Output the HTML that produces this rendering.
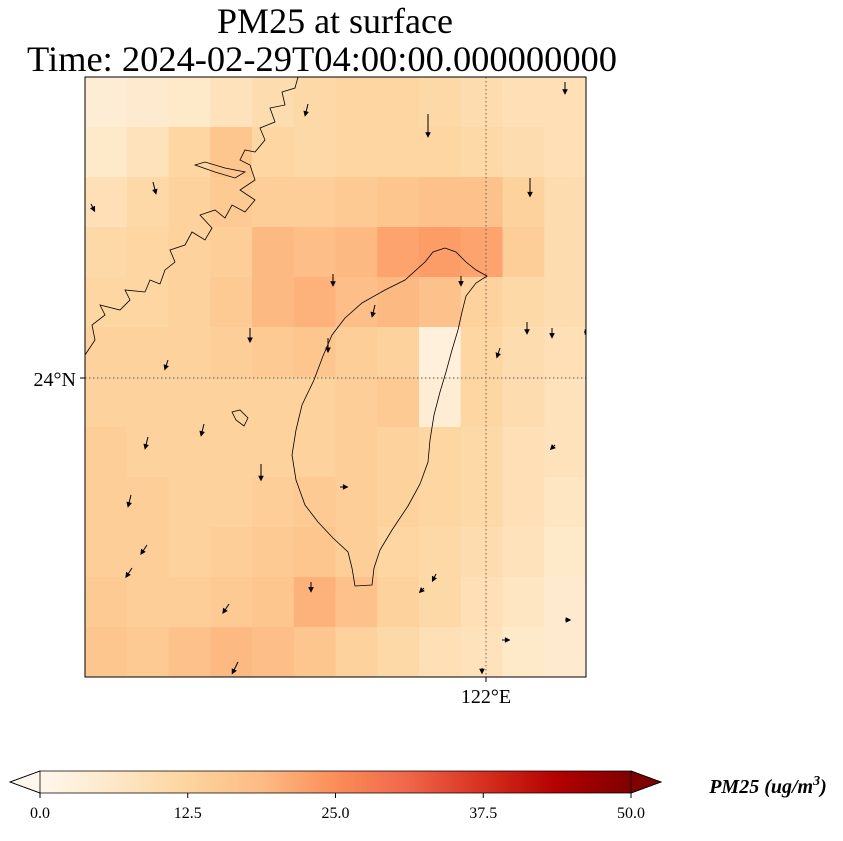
<!DOCTYPE html>
<html><head><meta charset="utf-8"><style>
body{margin:0;background:#fff;width:843px;height:836px;overflow:hidden;font-family:"Liberation Serif",serif}
</style></head><body>
<svg id="s" width="843" height="836" xmlns="http://www.w3.org/2000/svg">
<defs>
<linearGradient id="cbg" x1="0" x2="1" y1="0" y2="0">
<stop offset="0" stop-color="#fff7ec"/><stop offset="0.125" stop-color="#fee8c8"/><stop offset="0.25" stop-color="#fdd49e"/><stop offset="0.375" stop-color="#fdbb84"/><stop offset="0.5" stop-color="#fc8d59"/><stop offset="0.625" stop-color="#ef6548"/><stop offset="0.75" stop-color="#d7301f"/><stop offset="0.875" stop-color="#b30000"/><stop offset="1" stop-color="#7f0000"/>
</linearGradient>
<clipPath id="mc"><rect x="85" y="77" width="501" height="600"/></clipPath>
</defs>
<text x="335" y="33" text-anchor="middle" font-size="36">PM25 at surface</text>
<text x="322" y="71" text-anchor="middle" font-size="36" textLength="590" lengthAdjust="spacingAndGlyphs">Time: 2024-02-29T04:00:00.000000000</text>
<g id="field" clip-path="url(#mc)"></g>
<g id="coast" clip-path="url(#mc)" fill="none" stroke="#000" stroke-width="0.8">
<path d="M425,262 L433,252 L445,248 L456,252 L466,262 L476,270 L487,276 L476,283 L466,296 L462,312 L458,330 L452,350 L446,372 L440,392 L434,415 L430,440 L428,462 L420,484 L408,506 L392,530 L380,550 L374,568 L372,585 L355,586 L352,568 L348,552 L333,538 L318,522 L305,505 L296,480 L292,455 L296,430 L302,405 L314,380 L323,356 L332,335 L345,318 L362,303 L385,290 L405,280 Z"/>
<path d="M85,355 L95,340 L92,325 L105,315 L100,305 L120,310 L130,300 L125,290 L145,292 L150,280 L160,284 L165,270 L175,262 L170,250 L185,245 L192,232 L205,240 L212,228 L200,215 L215,210 L225,218 L232,205 L245,212 L255,200 L240,190 L255,180 L250,165 L240,160 L245,150 L255,152 L265,140 L260,128 L275,122 L270,108 L285,105 L282,92 L295,88 L298,77"/>
<path d="M195,165 L215,172 L235,178 L245,172 L225,168 L205,162 Z"/>
<path d="M232,412 L240,410 L248,418 L244,426 L236,420 Z"/>
</g>
<g id="arrows" clip-path="url(#mc)"></g>
<g stroke="#555" stroke-width="0.9" stroke-dasharray="1.5,2.5">
<line x1="85" y1="378" x2="586" y2="378"/>
<line x1="486" y1="77" x2="486" y2="677"/>
</g>
<rect x="85" y="77" width="501" height="600" fill="none" stroke="#000" stroke-width="1"/>
<line x1="80" y1="378" x2="85" y2="378" stroke="#000"/>
<text x="76" y="386" text-anchor="end" font-size="20">24°N</text>
<line x1="486" y1="677" x2="486" y2="682" stroke="#000"/>
<text x="486" y="703" text-anchor="middle" font-size="20">122°E</text>
<g>
<rect x="40" y="771" width="591" height="22" fill="url(#cbg)"/>
<polygon points="40,771 10,782 40,793" fill="#fff7ec" stroke="#000" stroke-width="0.8"/>
<polygon points="631,771 661,782 631,793" fill="#7f0000" stroke="#000" stroke-width="0.8"/>
<polygon points="10,782 40,771 631,771 661,782 631,793 40,793" fill="none" stroke="#000" stroke-width="0.8"/>
<g id="cbt" font-size="16"></g>
<text x="768" y="793" text-anchor="middle" font-size="20" font-weight="bold" font-style="italic">PM25 (ug/m<tspan dy="-8" font-size="14">3</tspan><tspan dy="8">)</tspan></text>
</g>
</svg>
<script>
const gridValues = [
[4,5,6,8,10,11,12,12,11,10,9,9],
[6,8,12,16,12,11,12,12,12,11,10,9],
[9,11,13,15,14,14,15,16,17,17,13,10],
[11,12,13,14,19,18,19,22,23,22,14,10],
[12,12,13,15,19,20,18,19,17,13,11,10],
[13,13,13,14,15,16,14,13,3,12,10,9],
[13,13,13,13,13,13,14,15,4,12,10,8],
[14,13,13,13,13,13,14,13,12,11,9,8],
[14,14,13,13,14,15,14,13,12,11,9,7],
[14,14,13,14,15,16,14,12,11,10,8,6],
[15,14,14,15,16,20,17,13,11,9,7,5],
[16,15,17,19,18,16,13,11,9,8,6,5]];
const colorbarTicks = [0,12.5,25,37.5,50];
const arrowX = [153,210,308,428,530,565,91,333,250,168,148,204,261,328,375,461,500,527,552,584,131,147,132,229,238,311,340,424,436,502,565,482,555];
const arrowY = [182,92,104,114,178,82,204,274,328,360,437,424,464,338,305,276,348,322,328,332,495,545,568,604,662,582,487,588,574,640,620,668,445];
const arrowU = [1,0,-1,0,0,0,1,0,0,-1,-1,-1,0,0,-1,0,-1,0,0,1,-1,-2,-2,-2,-2,0,2,-1,-1,2,1,0,-1];
const arrowV = [4,0,4,9,7,4,2,4,5,3,4,4,6,5,4,3,3,4,3,0,4,3,3,3,4,3,0,1,2,0,0,1,1];
const X0=85,Y0=77,W=501,H=600;
const cmap=[[0,"#fff7ec"],[6.25,"#fee8c8"],[12.5,"#fdd49e"],[18.75,"#fdbb84"],[25,"#fc8d59"],[31.25,"#ef6548"],[37.5,"#d7301f"],[43.75,"#b30000"],[50,"#7f0000"]];
function hx(c){return [1,3,5].map(i=>parseInt(c.substr(i,2),16));}
function color(v){v=Math.max(0,Math.min(50,v));for(let i=0;i<cmap.length-1;i++){const[a,ca]=cmap[i],[b,cb]=cmap[i+1];if(v<=b){const t=(v-a)/(b-a),A=hx(ca),B=hx(cb);return "rgb("+A.map((x,k)=>Math.round(x+(B[k]-x)*t)).join(",")+")";}}return "#7f0000";}
const NS="http://www.w3.org/2000/svg";
const rows=gridValues.length,cols=gridValues[0].length;
const cw=W/cols,ch=H/rows;
const field=document.getElementById('field');
gridValues.forEach((row,r)=>row.forEach((v,c)=>{
 const el=document.createElementNS(NS,'rect');
 el.setAttribute('x',X0+c*cw);el.setAttribute('y',Y0+r*ch);
 el.setAttribute('width',cw+0.6);el.setAttribute('height',ch+0.6);
 el.setAttribute('fill',color(v));
 
 
 field.appendChild(el);
}));
const ag=document.getElementById('arrows');
arrowX.forEach((x,i)=>{
 const u=arrowU[i],v=arrowV[i],s=2.2;
 const x2=x+u*s,y2=arrowY[i]+v*s;
 const L=Math.hypot(u,v)||1,ux=u/L,uy=v/L;
 const p=document.createElementNS(NS,'path');
 p.setAttribute('d',`M${x},${arrowY[i]} L${x2},${y2} M${x2+uy*2-ux*1},${y2-ux*2-uy*1} L${x2+ux*3},${y2+uy*3} L${x2-uy*2-ux*1},${y2+ux*2-uy*1} Z`);
 p.setAttribute('stroke','#000');p.setAttribute('stroke-width','1');p.setAttribute('fill','#000');
 
 
 ag.appendChild(p);
});
const cbt=document.getElementById('cbt');
colorbarTicks.forEach(t=>{
 const x=40+t/50*591;
 const ln=document.createElementNS(NS,'line');
 ln.setAttribute('x1',x);ln.setAttribute('x2',x);ln.setAttribute('y1',793);ln.setAttribute('y2',798);ln.setAttribute('stroke','#000');
 
 
 cbt.appendChild(ln);
 const tx=document.createElementNS(NS,'text');
 tx.setAttribute('x',x);tx.setAttribute('y',818);tx.setAttribute('text-anchor','middle');
 tx.textContent=t.toFixed(1);
 
 
 cbt.appendChild(tx);
});
</script>
</body></html>
